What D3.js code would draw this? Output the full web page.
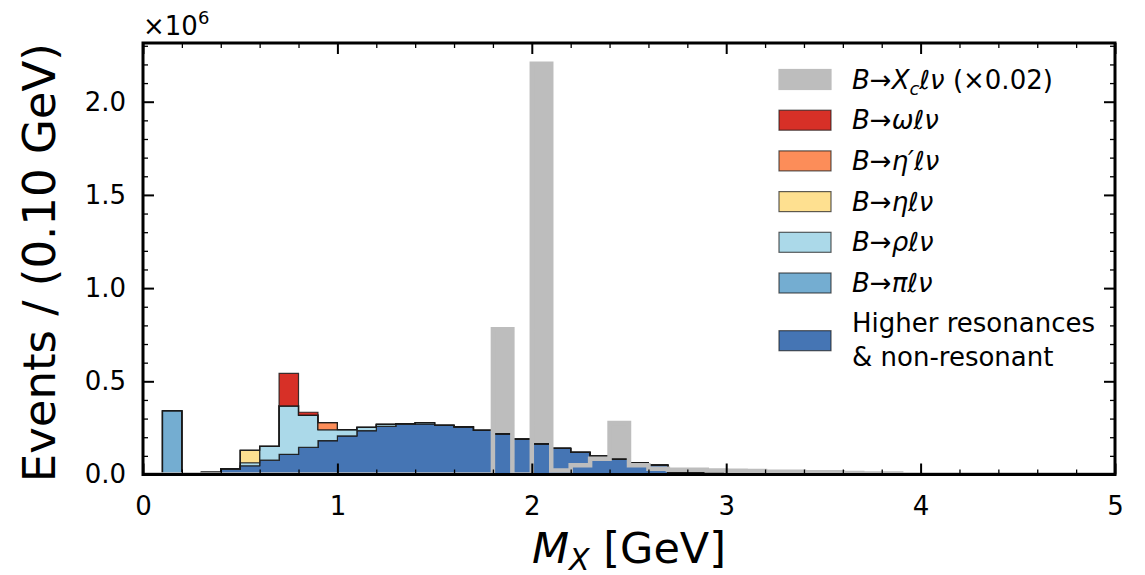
<!DOCTYPE html>
<html>
<head>
<meta charset="utf-8">
<script src="https://cdn.jsdelivr.net/npm/d3@7"></script>
<style>
body { margin:0; background:#ffffff; }
text { font-family: "DejaVu Sans", sans-serif; fill: black; }
</style>
</head>
<body>
<svg id="drawing_region"></svg>
<script>
// M_X bins, 0.1 GeV wide, lower edges 0.0 ... 4.9
const binLow = d3.range(50).map(i => +(i * 0.1).toFixed(1));
const binWidth = 0.1;

// events per bin, in units of 1e6
const higherRes = [
    0, 0, 0, 0.011, 0.027, 0.047, 0.077, 0.108, 0.145, 0.182,
    0.207, 0.235, 0.258, 0.270, 0.272, 0.264, 0.255, 0.237, 0.218, 0.190,
    0.164, 0.140, 0.119, 0.099, 0.081, 0.063, 0.051, 0.010, 0.009, 0.008,
    0.006, 0.005, 0.004, 0.003, 0.002, 0.002, 0.001, 0, 0, 0,
    0, 0, 0, 0, 0, 0, 0, 0, 0, 0 ];
const piLnu = [
    0, 0.342, 0, 0, 0, 0, 0, 0, 0, 0,
    0, 0, 0, 0, 0, 0, 0, 0, 0, 0,
    0, 0, 0, 0, 0, 0, 0, 0, 0, 0,
    0, 0, 0, 0, 0, 0, 0, 0, 0, 0,
    0, 0, 0, 0, 0, 0, 0, 0, 0, 0 ];
const rhoLnu = [
    0, 0, 0, 0, 0.004, 0.016, 0.074, 0.260, 0.174, 0.058,
    0.034, 0.018, 0.011, 0.003, 0.007, 0, 0, 0, 0, 0,
    0, 0, 0, 0, 0, 0, 0, 0, 0, 0,
    0, 0, 0, 0, 0, 0, 0, 0, 0, 0,
    0, 0, 0, 0, 0, 0, 0, 0, 0, 0 ];
const etaLnu = [
    0, 0, 0, 0, 0, 0.067, 0, 0, 0, 0,
    0, 0, 0, 0, 0, 0, 0, 0, 0, 0,
    0, 0, 0, 0, 0, 0, 0, 0, 0, 0,
    0, 0, 0, 0, 0, 0, 0, 0, 0, 0,
    0, 0, 0, 0, 0, 0, 0, 0, 0, 0 ];
const etaPrimeLnu = [
    0, 0, 0, 0, 0, 0, 0, 0, 0, 0.038,
    0, 0, 0, 0, 0, 0, 0, 0, 0, 0,
    0, 0, 0, 0, 0, 0, 0, 0, 0, 0,
    0, 0, 0, 0, 0, 0, 0, 0, 0, 0,
    0, 0, 0, 0, 0, 0, 0, 0, 0, 0 ];
const omegaLnu = [
    0, 0, 0, 0, 0, 0, 0, 0.174, 0.015, 0,
    0, 0, 0, 0, 0, 0, 0, 0, 0, 0,
    0, 0, 0, 0, 0, 0, 0, 0, 0, 0,
    0, 0, 0, 0, 0, 0, 0, 0, 0, 0,
    0, 0, 0, 0, 0, 0, 0, 0, 0, 0 ];
// B -> Xc l nu, already scaled by 0.02
const xcLnu = [
    0, 0, 0, 0, 0, 0, 0, 0, 0, 0,
    0, 0, 0, 0, 0, 0, 0, 0, 0.779, 0,
    2.204, 0.022, 0.049, 0.085, 0.276, 0.049, 0.031, 0.026, 0.026, 0.021,
    0.020, 0.019, 0.015, 0.015, 0.012, 0.012, 0.008, 0.005, 0.005, 0,
    0, 0, 0, 0, 0, 0, 0, 0, 0, 0 ];

const stackKeys = ['higher', 'pi', 'rho', 'eta', 'etap', 'omega'];
const stackColors = ['#4575b4', '#74add1', '#abd9e9', '#fee090', '#fc8d59', '#d73027'];
const xcColor = '#bdbdbd';

const xTicks = [0, 1, 2, 3, 4, 5];
const yTicks = [0, 0.5, 1.0, 1.5, 2.0];

// legend rows, top to bottom: [text, italic] pieces, 'sub' marks a subscript
const legendRows = [
    { key: 'xc', lines: [[['B', 1], ['→', 0], ['X', 1], ['c', 'sub'], ['ℓν', 1], [' (×0.02)', 0]]] },
    { key: 'omega', lines: [[['B', 1], ['→', 0], ['ωℓν', 1]]] },
    { key: 'etap', lines: [[['B', 1], ['→', 0], ['η′ℓν', 1]]] },
    { key: 'eta', lines: [[['B', 1], ['→', 0], ['ηℓν', 1]]] },
    { key: 'rho', lines: [[['B', 1], ['→', 0], ['ρℓν', 1]]] },
    { key: 'pi', lines: [[['B', 1], ['→', 0], ['πℓν', 1]]] },
    { key: 'higher', lines: [[['Higher resonances', 0]], [['& non-resonant', 0]]] }
];

class StackedHist {
    constructor( config ) {
        this.config = config;
        this.init();
    }

    init() {
        let self = this;
        self.svg = d3.select( self.config.parent )
            .attr('width', self.config.width)
            .attr('height', self.config.height);

        self.inner_width = self.config.width - self.config.margin.left - self.config.margin.right;
        self.inner_height = self.config.height - self.config.margin.top - self.config.margin.bottom;

        self.chart = self.svg.append('g')
            .attr('transform', `translate(${self.config.margin.left}, ${self.config.margin.top})`);

        self.svg.append('defs').append('clipPath').attr('id', 'plotclip')
            .append('rect')
            .attr('width', self.inner_width)
            .attr('height', self.inner_height);

        self.xscale = d3.scaleLinear().domain([0, 5]).range([0, self.inner_width]);
        self.yscale = d3.scaleLinear().domain([0, 2.315]).range([self.inner_height, 0]);

        self.table = binLow.map( (lo, i) => ({
            x0: lo, x1: lo + binWidth,
            higher: higherRes[i], pi: piLnu[i], rho: rhoLnu[i],
            eta: etaLnu[i], etap: etaPrimeLnu[i], omega: omegaLnu[i],
            xc: xcLnu[i]
        }));
        self.stacked = d3.stack().keys( stackKeys )( self.table );
    }

    stepPath( tops, bottoms ) {
        let self = this;
        const X = self.xscale, Y = self.yscale;
        let pts = [];
        self.table.forEach( (d, i) => {
            pts.push([X(d.x0), Y(tops[i])], [X(d.x1), Y(tops[i])]);
        });
        if (bottoms) {
            for (let i = self.table.length - 1; i >= 0; i--) {
                const d = self.table[i];
                pts.push([X(d.x1), Y(bottoms[i])], [X(d.x0), Y(bottoms[i])]);
            }
            return 'M' + pts.map(p => p.join(',')).join('L') + 'Z';
        }
        pts.unshift([X(self.table[0].x0), Y(0)]);
        pts.push([X(self.table[self.table.length - 1].x1), Y(0)]);
        return 'M' + pts.map(p => p.join(',')).join('L');
    }

    render() {
        let self = this;
        const plot = self.chart.append('g').attr('clip-path', 'url(#plotclip)');
        const zeros = self.table.map(() => 0);

        // Xc fill behind the stack
        plot.append('path')
            .attr('d', self.stepPath( self.table.map(d => d.xc), zeros ))
            .attr('fill', xcColor)
            .attr('stroke', 'none');

        plot.selectAll('.layer')
            .data(self.stacked)
            .join('path')
            .attr('class', 'layer')
            .attr('d', s => self.stepPath( s.map(v => v[1]), s.map(v => v[0]) ))
            .attr('fill', (s, i) => stackColors[i])
            .attr('stroke', '#1a1a1a')
            .attr('stroke-opacity', 0.85)
            .attr('stroke-width', 1.2)
            .attr('stroke-linejoin', 'miter');

        // Xc thick outline on top
        plot.append('path')
            .attr('d', self.stepPath( self.table.map(d => d.xc) ))
            .attr('fill', 'none')
            .attr('stroke', xcColor)
            .attr('stroke-width', 4.5)
            .attr('stroke-linejoin', 'miter');

        self.drawAxes();
        self.drawLegend();
    }

    drawAxes() {
        let self = this;
        const W = self.inner_width, H = self.inner_height;
        const xMinor = d3.range(0, 5.01, 0.2).map(v => +v.toFixed(1)).filter(v => !xTicks.includes(v));
        const yMinor = d3.range(0, 2.31, 0.1).map(v => +v.toFixed(1)).filter(v => !yTicks.includes(v));
        const styleTicks = (g, w) => {
            g.select('.domain').remove();
            g.selectAll('.tick line').attr('stroke', 'black').attr('stroke-width', w);
        };
        const fmtY = d3.format('.1f');

        // bottom
        self.chart.append('g').attr('transform', `translate(0, ${H})`)
            .call( d3.axisBottom(self.xscale).tickValues(xMinor).tickSizeInner(-5).tickSizeOuter(0).tickFormat('') )
            .call( g => styleTicks(g, 1.3) );
        self.chart.append('g').attr('transform', `translate(0, ${H})`)
            .call( d3.axisBottom(self.xscale).tickValues(xTicks).tickSizeInner(-11).tickSizeOuter(0).tickPadding(22).tickFormat(d3.format('d')) )
            .call( g => { styleTicks(g, 2); g.selectAll('text').attr('font-size', '26px').attr('font-family', 'DejaVu Sans'); } );
        // top
        self.chart.append('g')
            .call( d3.axisTop(self.xscale).tickValues(xMinor).tickSizeInner(-5).tickSizeOuter(0).tickFormat('') )
            .call( g => styleTicks(g, 1.3) );
        self.chart.append('g')
            .call( d3.axisTop(self.xscale).tickValues(xTicks).tickSizeInner(-11).tickSizeOuter(0).tickFormat('') )
            .call( g => styleTicks(g, 2) );
        // left
        self.chart.append('g')
            .call( d3.axisLeft(self.yscale).tickValues(yMinor).tickSizeInner(-5).tickSizeOuter(0).tickFormat('') )
            .call( g => styleTicks(g, 1.3) );
        self.chart.append('g')
            .call( d3.axisLeft(self.yscale).tickValues(yTicks).tickSizeInner(-11).tickSizeOuter(0).tickPadding(17).tickFormat(fmtY) )
            .call( g => { styleTicks(g, 2); g.selectAll('text').attr('font-size', '26px').attr('font-family', 'DejaVu Sans'); } );
        // right
        self.chart.append('g').attr('transform', `translate(${W}, 0)`)
            .call( d3.axisRight(self.yscale).tickValues(yMinor).tickSizeInner(-5).tickSizeOuter(0).tickFormat('') )
            .call( g => styleTicks(g, 1.3) );
        self.chart.append('g').attr('transform', `translate(${W}, 0)`)
            .call( d3.axisRight(self.yscale).tickValues(yTicks).tickSizeInner(-11).tickSizeOuter(0).tickFormat('') )
            .call( g => styleTicks(g, 2) );

        // frame
        self.chart.append('rect')
            .attr('width', W).attr('height', H)
            .attr('fill', 'none')
            .attr('stroke', 'black')
            .attr('stroke-width', 3);

        // offset text x10^6
        const off = self.chart.append('text')
            .attr('x', 0).attr('y', -8)
            .attr('font-size', '26px');
        off.append('tspan').text('×10');
        off.append('tspan').attr('font-size', '18px').attr('dy', -11).text('6');

        // x label
        const xl = self.chart.append('text')
            .attr('x', W / 2).attr('y', H + 88)
            .attr('text-anchor', 'middle')
            .attr('font-size', '43px');
        xl.append('tspan').attr('font-style', 'italic').text('M');
        xl.append('tspan').attr('font-style', 'italic').attr('font-size', '30px').attr('dy', 7).text('X');
        xl.append('tspan').attr('dy', -7).text(' [GeV]');

        // y label
        self.chart.append('text')
            .attr('transform', 'rotate(-90)')
            .attr('x', -H / 2 - 4).attr('y', -88)
            .attr('text-anchor', 'middle')
            .attr('font-size', '45px')
            .text('Events / (0.10 GeV)');
    }

    drawLegend() {
        let self = this;
        const colorOf = k => k === 'xc' ? xcColor : stackColors[stackKeys.indexOf(k)];
        const lg = self.svg.append('g').attr('transform', 'translate(779, 0)');
        const rowH = 40.7, lineH = 34;
        let yc = 79.5;
        legendRows.forEach( (row, r) => {
            if (r > 0) {
                const prevH = rowH + (legendRows[r - 1].lines.length - 1) * lineH;
                const curH = rowH + (row.lines.length - 1) * lineH;
                yc += prevH / 2 + curH / 2;
            }
            lg.append('rect')
                .attr('x', 0).attr('y', yc - 10)
                .attr('width', 52).attr('height', 20)
                .attr('fill', colorOf(row.key))
                .attr('stroke', row.key === 'xc' ? colorOf(row.key) : '#1a1a1a')
                .attr('stroke-opacity', row.key === 'xc' ? 1 : 0.7)
                .attr('stroke-width', 1.2);
            const n = row.lines.length;
            row.lines.forEach( (parts, li) => {
                const base = yc + 9 + (li - (n - 1) / 2) * lineH - (n > 1 ? 1 : 0);
                const t = lg.append('text')
                    .attr('x', 73).attr('y', base)
                    .attr('font-size', '26px');
                let shifted = 0;
                parts.forEach( ([s, st]) => {
                    const sp = t.append('tspan').text(s);
                    if (st === 'sub') {
                        sp.attr('font-style', 'italic').attr('font-size', '18px').attr('dy', 6);
                        shifted = 6;
                    } else {
                        if (shifted) { sp.attr('dy', -shifted); shifted = 0; }
                        if (st === 1) sp.attr('font-style', 'italic');
                    }
                });
            });
        });
    }
}

const config = {
    parent: '#drawing_region',
    width: 1145,
    height: 575,
    margin: {top: 43, right: 30, bottom: 100.5, left: 143}
};
const hist = new StackedHist( config );
hist.render();
</script>
</body>
</html>
